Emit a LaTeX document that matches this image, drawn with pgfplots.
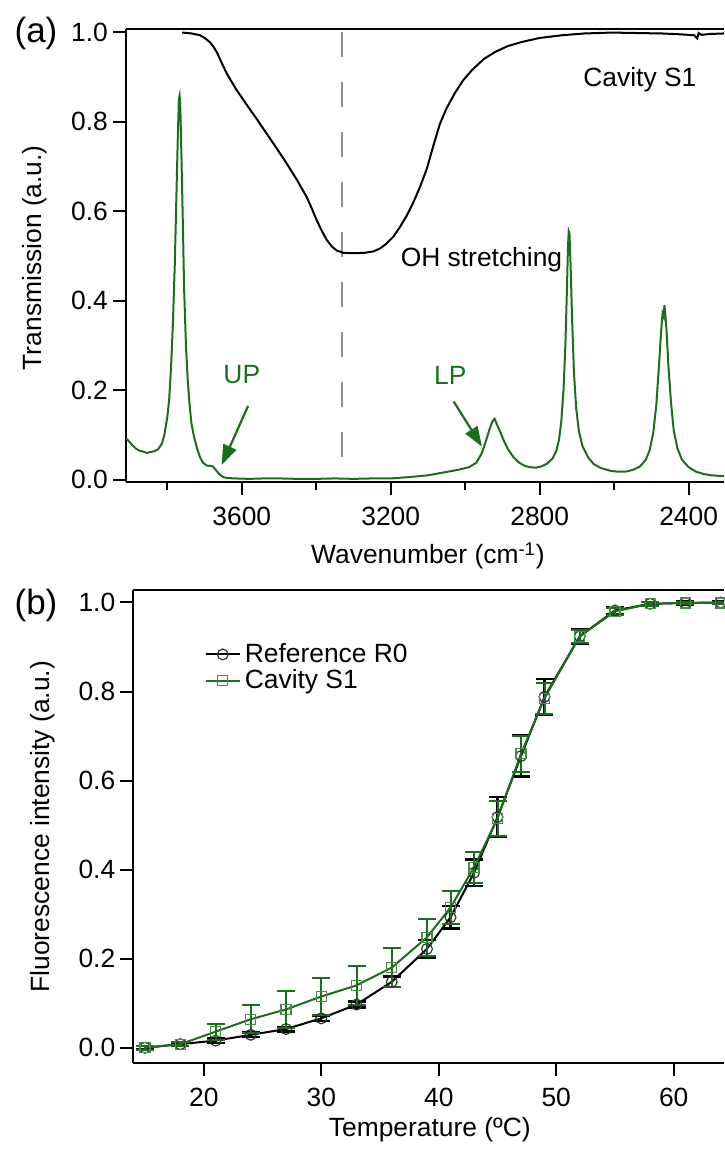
\documentclass[border=0pt]{standalone}
\usepackage{fontspec}
\setmainfont{Liberation Sans}
\usepackage{pgfplots}
\pgfplotsset{compat=1.18}
\usetikzlibrary{arrows.meta}
\definecolor{specgreen}{RGB}{25,112,25}
\definecolor{dashgray}{RGB}{145,145,145}

\pgfplotsset{
  every axis/.append style={
    scale only axis,
    font=\fontsize{13.2}{15.5}\selectfont,
    axis x line*=box, axis y line*=left,
    xtick pos=left, ytick pos=left,
    axis line style={line width=1.1pt},
    tick align=outside,
    major tick length=6.5pt, minor tick length=4pt,
    every tick/.style={line width=1pt,black},
    /pgf/number format/assume math mode=true,
    tick label style={font=\fontsize{13.2}{15.5}\selectfont},
    x tick label style={yshift=-2.5pt},
    y tick label style={xshift=1pt},
    yticklabel style={/pgf/number format/.cd,fixed,fixed zerofill,precision=1},
  },
}

\begin{document}
\begin{tikzpicture}
\useasboundingbox (0,0) rectangle (362pt,-574.5pt);

% ---------- (a) transmission spectra
\begin{axis}[at={(63pt,-14.5pt)},anchor=north west,
  width=299pt,height=226.5pt,
  x dir=reverse,xmin=2305,xmax=3911,ymin=-0.005,ymax=1.007,
  xtick={2400,2800,3200,3600},minor xtick={2600,3000,3400,3800},
  ytick={0,0.2,0.4,0.6,0.8,1.0},
  xticklabel style={/pgf/number format/.cd,set thousands separator={}},
  xlabel={Wavenumber (cm\textsuperscript{-1})},
  ylabel={Transmission (a.u.)},
  xlabel style={at={(axis description cs:0.505,-0.163)},anchor=center},
  ylabel style={at={(axis description cs:-0.152,0.495)},anchor=center}]

\addplot[dashgray,line width=1pt,dash pattern=on 12.5pt off 12.5pt]
  coordinates {(3330,1.0)(3330,0.0)};

% cavity S1 (OH stretching band)
\addplot[black,line width=1pt] coordinates {
 (3760,0.999)(3735,0.997)(3712,0.993)(3698,0.986)(3685,0.977)(3675,0.966)
 (3667,0.955)(3655,0.933)(3640,0.907)(3615,0.872)(3587,0.838)(3560,0.806)
 (3533,0.773)(3506,0.740)(3479,0.706)(3452,0.670)(3426,0.632)(3412,0.606)
 (3399,0.580)(3385,0.556)(3372,0.536)(3358,0.521)(3345,0.512)(3327,0.507)
 (3300,0.506)(3270,0.507)(3247,0.510)(3228,0.517)(3211,0.528)(3193,0.543)
 (3175,0.565)(3157,0.590)(3139,0.620)(3121,0.655)(3103,0.695)(3086,0.745)
 (3068,0.795)(3050,0.830)(3027,0.865)(3005,0.893)(2982,0.915)(2950,0.940)
 (2919,0.956)(2885,0.969)(2848,0.978)(2800,0.987)(2740,0.993)(2680,0.997)
 (2606,0.999)(2540,0.998)(2472,0.997)(2420,0.995)(2385,0.993)(2377,0.986)
 (2373,0.998)(2366,0.994)(2340,0.996)(2305,0.997)};

% cavity S1 spectrum
\addplot[specgreen,line width=1pt] coordinates {
 (3911,0.092)(3905,0.088)(3895,0.078)(3885,0.070)(3875,0.065)(3865,0.063)
 (3855,0.060)(3845,0.062)(3835,0.064)(3825,0.068)(3815,0.080)(3808,0.100)
 (3800,0.140)(3795,0.180)(3790,0.250)(3785,0.350)(3780,0.480)(3776,0.620)
 (3772,0.760)(3769,0.850)(3767,0.858)(3765,0.830)(3762,0.720)(3758,0.560)
 (3755,0.430)(3750,0.300)(3745,0.220)(3740,0.165)(3735,0.125)(3728,0.095)
 (3720,0.070)(3712,0.050)(3704,0.038)(3695,0.032)(3686,0.031)(3678,0.030)
 (3670,0.022)(3660,0.012)(3650,0.006)(3640,0.004)(3620,0.003)(3580,0.002)
 (3540,0.003)(3500,0.003)(3450,0.002)(3400,0.002)(3350,0.003)(3300,0.002)
 (3250,0.003)(3200,0.003)(3150,0.006)(3100,0.010)(3060,0.016)(3020,0.022)
 (2990,0.028)(2970,0.038)(2955,0.060)(2945,0.085)(2935,0.112)(2927,0.130)
 (2921,0.136)(2917,0.128)(2912,0.118)(2905,0.105)(2895,0.085)(2885,0.068)
 (2870,0.050)(2855,0.038)(2840,0.031)(2825,0.028)(2810,0.027)(2795,0.030)
 (2780,0.036)(2765,0.048)(2755,0.065)(2748,0.090)(2742,0.130)(2736,0.200)
 (2731,0.300)(2727,0.420)(2724,0.520)(2722,0.555)(2720,0.550)(2717,0.480)
 (2713,0.360)(2708,0.240)(2702,0.160)(2695,0.110)(2685,0.075)(2670,0.050)
 (2655,0.035)(2635,0.026)(2610,0.020)(2590,0.018)(2570,0.018)(2550,0.022)
 (2530,0.030)(2515,0.045)(2505,0.065)(2495,0.105)(2487,0.165)(2480,0.250)
 (2474,0.330)(2470,0.372)(2467,0.365)(2465,0.390)(2463,0.375)(2459,0.330)
 (2454,0.250)(2447,0.170)(2440,0.110)(2430,0.070)(2418,0.045)(2400,0.028)
 (2380,0.018)(2360,0.013)(2340,0.010)(2305,0.008)};

\draw[specgreen,line width=1.1pt,-{Triangle[length=10pt,width=7pt]}]
  (axis cs:3583,0.165) -- (axis cs:3654,0.033);
\draw[specgreen,line width=1.1pt,-{Triangle[length=10pt,width=7pt]}]
  (axis cs:3031,0.175) -- (axis cs:2955,0.074);
\node[specgreen] at (axis cs:3600,0.234) {UP};
\node[specgreen] at (axis cs:3040,0.234) {LP};
\node[anchor=west] at (axis cs:3192,0.491) {OH stretching};
\node at (axis cs:2531,0.893) {Cavity S1};
\end{axis}

% ---------- (b) melting curves
\begin{axis}[at={(66.65pt,-295pt)},anchor=north west,
  width=295.35pt,height=236.65pt,
  xmin=14,xmax=64.28,ymin=-0.035,ymax=1.028,
  xtick={20,30,40,50,60},
  ytick={0,0.2,0.4,0.6,0.8,1.0},
  xlabel={Temperature (ºC)},
  ylabel={Fluorescence intensity (a.u.)},
  xlabel style={at={(axis description cs:0.502,-0.141)},anchor=center},
  ylabel style={at={(axis description cs:-0.153,0.5)},anchor=center},
  legend style={at={(0.11,0.905)},anchor=north west,draw=none,fill=none,
    font=\fontsize{13.2}{15.5}\selectfont,row sep=-2pt,
    cells={anchor=west}},
  legend cell align=left]

\addplot[black,line width=1pt,mark=o,mark size=2.7pt,
  mark options={line width=0.6pt,black!80},
  error bars/.cd,y dir=both,y explicit,
  error bar style={line width=1.1pt,black},
  error mark options={rotate=90,mark size=4.5pt,line width=1.3pt,black}]
  table[x=T,y=F,y error=E] {
  T   F     E
  15  0.000 0.004
  18  0.008 0.004
  21  0.016 0.005
  24  0.029 0.005
  27  0.042 0.005
  30  0.066 0.006
  33  0.097 0.007
  36  0.148 0.012
  39  0.222 0.020
  41  0.293 0.025
  43  0.393 0.030
  45  0.518 0.045
  47  0.655 0.046
  49  0.788 0.040
  52  0.924 0.016
  55  0.982 0.008
  58  0.997 0.004
  61  0.999 0.003
  64  1.000 0.003
};
\addlegendentry{Reference R0}

\addplot[specgreen,line width=1pt,mark=square,mark size=2.5pt,
  mark options={line width=0.6pt,specgreen!80},
  error bars/.cd,y dir=both,y explicit,
  error bar style={line width=1pt,specgreen},
  error mark options={rotate=90,mark size=4.5pt,line width=1pt,specgreen}]
  table[x=T,y=F,y error=E] {
  T   F     E
  15  0.000 0.004
  18  0.008 0.005
  21  0.036 0.018
  24  0.064 0.032
  27  0.086 0.041
  30  0.115 0.041
  33  0.140 0.044
  36  0.180 0.043
  39  0.248 0.041
  41  0.315 0.038
  43  0.405 0.035
  45  0.515 0.040
  47  0.660 0.040
  49  0.785 0.035
  52  0.924 0.015
  55  0.980 0.008
  58  0.997 0.004
  61  0.999 0.003
  64  0.999 0.003
};
\addlegendentry{Cavity S1}
\end{axis}

\node[font=\fontsize{17.5}{20}\selectfont] at (18pt,-16.5pt) {(a)};
\node[font=\fontsize{17.5}{20}\selectfont] at (18pt,-302.5pt) {(b)};
\end{tikzpicture}
\end{document}
